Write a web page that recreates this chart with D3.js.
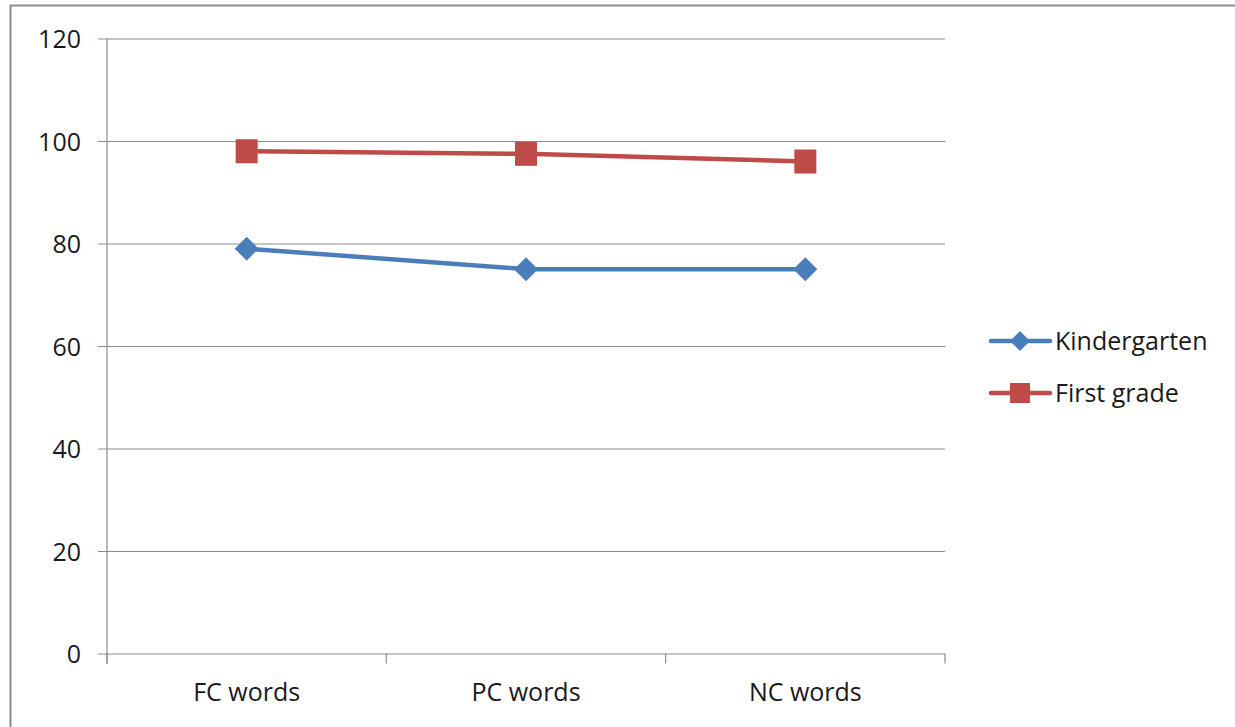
<!DOCTYPE html>
<html>
<head>
<meta charset="utf-8">
<script src="https://cdn.jsdelivr.net/npm/d3@7"></script>
<style>
  html, body { margin: 0; padding: 0; background: #fff; }
  svg text { font-family: "Open Sans", "Liberation Sans", sans-serif; fill: #1a1a1a; }
</style>
</head>
<body>
<svg id="chart" width="1235" height="727"></svg>
<script>
// Word categories on the x axis
const categories = ["FC words", "PC words", "NC words"];
// Percent correct per group
const kindergarten = [79, 75, 75];
const firstGrade = [98, 97.5, 96];
// Y axis ticks
const yTicks = [0, 20, 40, 60, 80, 100, 120];
const seriesNames = ["Kindergarten", "First grade"];

const svg = d3.select("#chart");
const W = 1235, H = 727;

// outer chart frame
svg.append("rect")
  .attr("x", 10.5).attr("y", 5.5)
  .attr("width", W + 20).attr("height", H + 20)
  .attr("fill", "#fff").attr("stroke", "#8c8c8c").attr("stroke-width", 2);

const plot = { left: 107, right: 945, top: 38.5, bottom: 653.5 };

const x = d3.scaleBand().domain(categories).range([plot.left, plot.right]).paddingInner(0).paddingOuter(0);
const y = d3.scaleLinear().domain([0, 120]).range([plot.bottom, plot.top]);
const cx = d => x(d) + x.bandwidth() / 2;

// horizontal gridlines with left tick stubs and labels
const yAxis = d3.axisLeft(y).tickValues(yTicks).tickSize(-(plot.right - plot.left)).tickPadding(0).tickFormat(d3.format("d"));
const gy = svg.append("g").attr("transform", `translate(${plot.left},0)`).call(yAxis);
gy.select(".domain").remove();
gy.selectAll(".tick line").attr("stroke", "#8c8c8c").attr("stroke-width", 1.2).attr("x1", -9);
gy.selectAll(".tick text").attr("x", -26).attr("font-size", 25).attr("dy", "0.36em").attr("text-anchor", "end");

// vertical axis line
svg.append("line")
  .attr("x1", plot.left).attr("x2", plot.left)
  .attr("y1", plot.top).attr("y2", plot.bottom + 10)
  .attr("stroke", "#8c8c8c").attr("stroke-width", 1.2);

// category axis: ticks at band boundaries
const bounds = categories.map(c => x(c)).concat([x(categories[categories.length - 1]) + x.bandwidth()]);
svg.append("g").selectAll("line").data(bounds).join("line")
  .attr("x1", d => d).attr("x2", d => d)
  .attr("y1", plot.bottom).attr("y2", plot.bottom + 10)
  .attr("stroke", "#8c8c8c").attr("stroke-width", 1.2);

svg.append("g").selectAll("text").data(categories).join("text")
  .attr("x", d => cx(d)).attr("y", 701)
  .attr("text-anchor", "middle").attr("font-size", 25)
  .text(d => d);

const blue = "#4a7ebb", red = "#be4b48";

const line = d3.line().x((d, i) => cx(categories[i])).y(d => y(d));

// Kindergarten series
svg.append("path").datum(kindergarten).attr("d", line)
  .attr("fill", "none").attr("stroke", blue).attr("stroke-width", 4.5).attr("stroke-linejoin", "round");
const diamond = s => `M0,${-s} L${s},0 L0,${s} L${-s},0 Z`;
svg.append("g").selectAll("path").data(kindergarten).join("path")
  .attr("transform", (d, i) => `translate(${cx(categories[i])},${y(d)})`)
  .attr("d", diamond(12)).attr("fill", blue);

// First grade series
svg.append("path").datum(firstGrade).attr("d", line)
  .attr("fill", "none").attr("stroke", red).attr("stroke-width", 4.5).attr("stroke-linejoin", "round");
svg.append("g").selectAll("rect").data(firstGrade).join("rect")
  .attr("x", (d, i) => cx(categories[i]) - 11).attr("y", d => y(d) - 12)
  .attr("width", 22).attr("height", 24).attr("fill", red);

// legend
const legend = svg.append("g");
const items = [
  { name: seriesNames[0], color: blue, yPos: 341, shape: "diamond" },
  { name: seriesNames[1], color: red, yPos: 393, shape: "square" }
];
items.forEach(it => {
  legend.append("line").attr("x1", 991).attr("x2", 1050).attr("y1", it.yPos).attr("y2", it.yPos)
    .attr("stroke", it.color).attr("stroke-width", 4.5).attr("stroke-linecap", "round");
  if (it.shape === "diamond") {
    legend.append("path").attr("transform", `translate(1020,${it.yPos})`).attr("d", diamond(10)).attr("fill", it.color);
  } else {
    legend.append("rect").attr("x", 1010).attr("y", it.yPos - 10).attr("width", 20).attr("height", 20).attr("fill", it.color);
  }
  legend.append("text").attr("x", 1055).attr("y", it.yPos + 9).attr("font-size", 25).text(it.name);
});
</script>
</body>
</html>
